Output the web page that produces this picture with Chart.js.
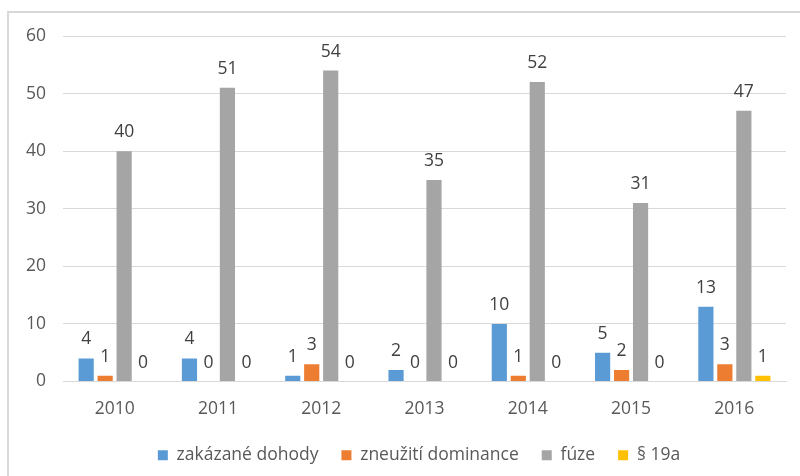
<!DOCTYPE html>
<html>
<head>
<meta charset="utf-8">
<script src="https://cdn.jsdelivr.net/npm/chart.js@4.4.0/dist/chart.umd.min.js"></script>
<style>
  html, body { margin: 0; padding: 0; background: #fff; }
  #frame { position: absolute; left: 7px; top: 11px; width: 800px; height: 480px; border-left: 2px solid #d9d9d9; border-top: 2px solid #d9d9d9; box-sizing: border-box; }
  #wrap { position: absolute; left: 0; top: 0; width: 800px; height: 476px; }
</style>
</head>
<body>
<div id="frame"></div>
<div id="wrap"><canvas id="c" width="800" height="476"></canvas></div>
<script>
const categories = ['2010', '2011', '2012', '2013', '2014', '2015', '2016'];
const zakazaneDohody = [4, 4, 1, 2, 10, 5, 13];
const zneuzitiDominance = [1, 0, 3, 0, 1, 2, 3];
const fuze = [40, 51, 54, 35, 52, 31, 47];
const paragraf19a = [0, 0, 0, 0, 0, 0, 1];
const seriesNames = ['zakázané dohody', 'zneužití dominance', 'fúze', '§ 19a'];
const yTicks = [0, 10, 20, 30, 40, 50, 60];

const FONT = '"Open Sans", sans-serif';
const FS = 17.5;
const colors = ['#5B9BD5', '#ED7D31', '#A5A5A5', '#FFC000'];

const labelPlugin = {
  id: 'valueLabels',
  afterDatasetsDraw(chart) {
    const ctx = chart.ctx;
    ctx.save();
    ctx.font = FS + 'px ' + FONT;
    ctx.fillStyle = '#404040';
    ctx.textAlign = 'center';
    ctx.textBaseline = 'alphabetic';
    chart.data.datasets.forEach((ds, i) => {
      const meta = chart.getDatasetMeta(i);
      meta.data.forEach((el, j) => {
        ctx.fillText(String(ds.data[j]), el.x, el.y - 14);
      });
    });
    ctx.restore();
  }
};

const legendShift = {
  id: 'legendShift',
  afterLayout(chart) {
    const lg = chart.legend;
    if (lg) { lg.left += 26; lg.right += 26; lg.top += 5; lg.bottom += 5; }
  }
};

const data = {
  labels: categories,
  datasets: [zakazaneDohody, zneuzitiDominance, fuze, paragraf19a].map((d, i) => ({
    label: seriesNames[i],
    data: d,
    backgroundColor: colors[i],
    borderWidth: 0,
    categoryPercentage: 0.735,
    barPercentage: 0.8
  }))
};

new Chart(document.getElementById('c'), {
  type: 'bar',
  data,
  plugins: [labelPlugin, legendShift],
  options: {
    responsive: false,
    animation: false,
    layout: { padding: { left: 0, right: 14, top: 36, bottom: 7 } },
    plugins: {
      tooltip: { enabled: false },
      legend: {
        position: 'bottom',
        labels: {
          boxWidth: 10,
          boxHeight: 10,
          padding: 23,
          color: '#595959',
          font: { family: FONT, size: FS }
        }
      }
    },
    scales: {
      x: {
        grid: { display: false, drawTicks: false },
        border: { display: true, color: '#d9d9d9', width: 1 },
        ticks: { color: '#595959', font: { family: FONT, size: FS }, padding: 17 },
        afterFit(scale) { scale.height = 37; }
      },
      y: {
        min: 0, max: 60,
        afterBuildTicks(scale) { scale.ticks = yTicks.map(v => ({ value: v })); },
        grid: { color: '#d9d9d9', lineWidth: 1, drawTicks: false },
        border: { display: false },
        ticks: { color: '#595959', font: { family: FONT, size: FS }, padding: 17 },
        afterFit(scale) { scale.width = 63; }
      }
    }
  }
});
</script>
</body>
</html>
